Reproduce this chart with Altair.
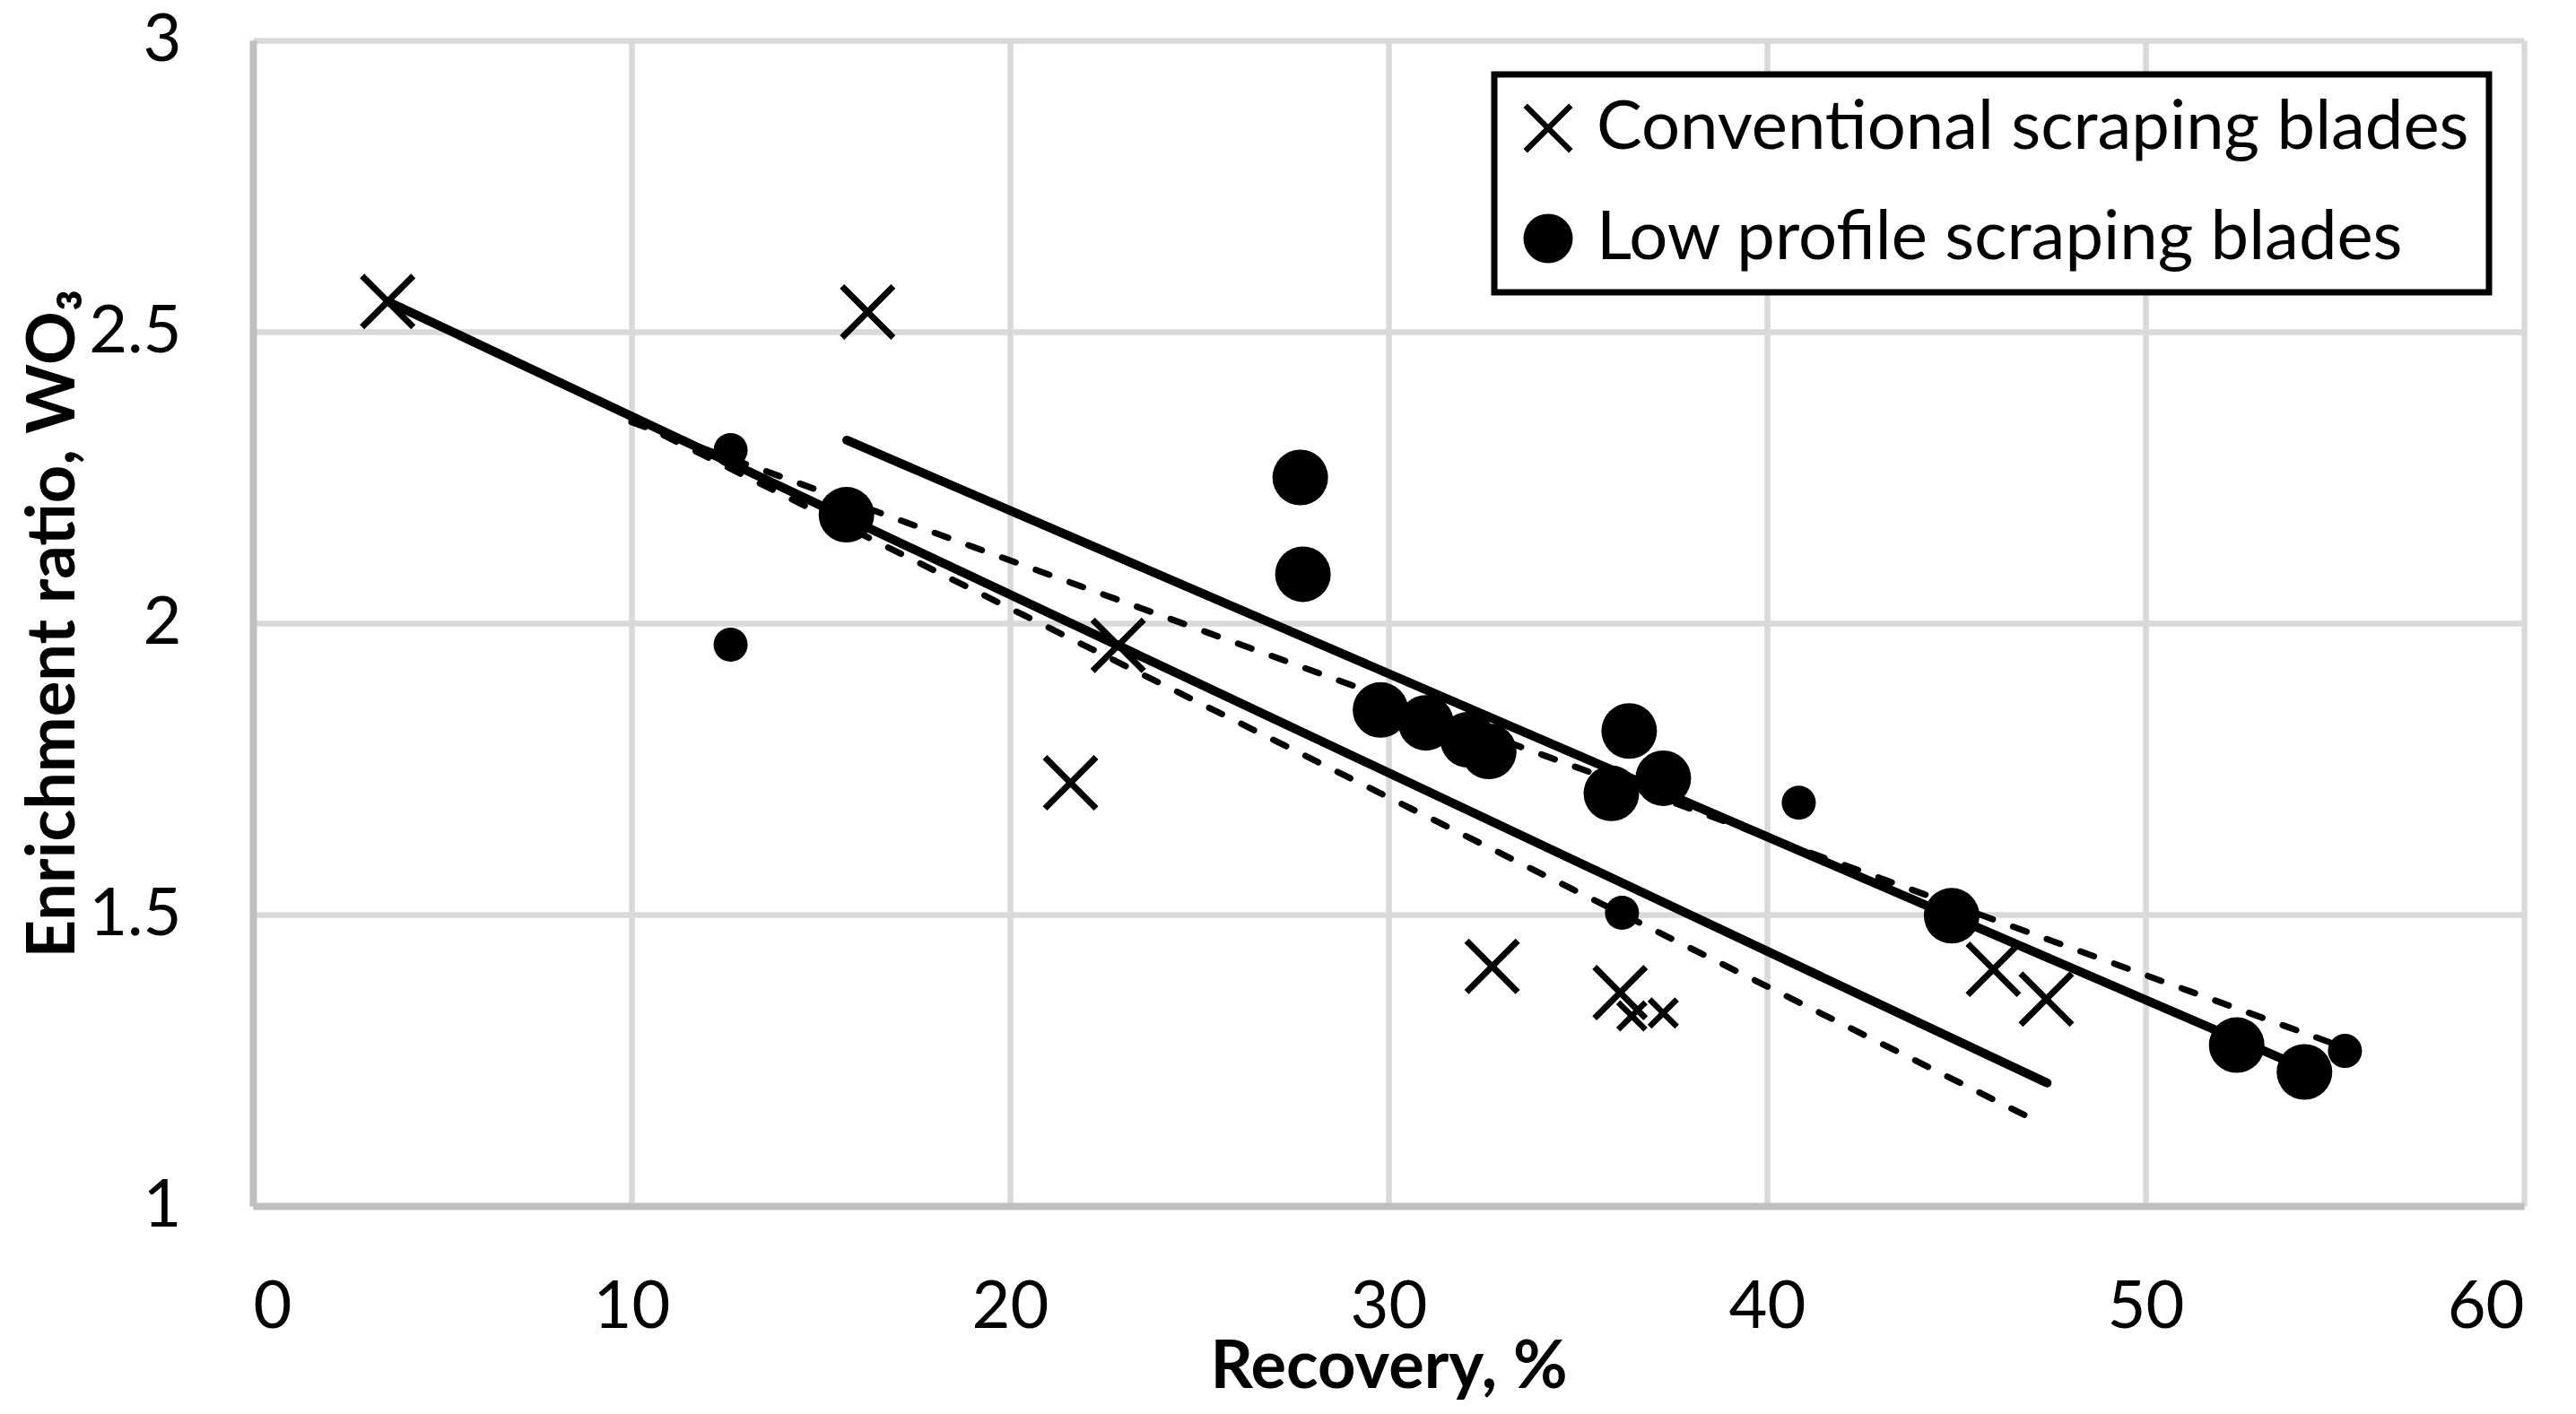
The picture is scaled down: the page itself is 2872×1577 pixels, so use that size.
import altair as alt
import pandas as pd

# ---- data ----
series_names = ["Conventional scraping blades", "Low profile scraping blades"]
small_conv_key = "Conventional scraping blades (small)"

conv_x = [3.56, 16.24, 22.86, 21.6, 32.74, 36.12, 36.43, 37.26, 45.98, 47.38]
conv_y = [2.552, 2.534, 1.962, 1.726, 1.411, 1.366, 1.326, 1.331, 1.406, 1.355]
conv_big = [1, 1, 1, 1, 1, 1, 0, 0, 1, 1]

low_x = [12.62, 12.62, 15.68, 27.67, 27.74, 29.79, 30.99, 32.1, 32.65, 36.36,
         37.26, 35.89, 36.17, 40.84, 44.88, 52.41, 54.2, 55.27]
low_y = [2.297, 1.963, 2.186, 2.250, 2.084, 1.851, 1.829, 1.80, 1.78, 1.815,
         1.734, 1.708, 1.503, 1.692, 1.498, 1.276, 1.23, 1.266]
low_big = [0, 0, 1, 1, 1, 1, 1, 1, 1, 1, 1, 1, 0, 0, 1, 1, 1, 0]

# trend lines (solid) and model lines (dashed): end points
solid_conv_x = [3.56, 47.4]
solid_conv_y = [2.552, 1.211]
solid_low_x = [15.69, 54.6]
solid_low_y = [2.314, 1.225]
dash_conv_x = [10.0, 47.3]
dash_conv_y = [2.35, 1.14]
dash_low_x = [10.0, 54.9]
dash_low_y = [2.345, 1.28]

x_ticks = [0, 10, 20, 30, 40, 50, 60]
y_ticks = [1, 1.5, 2, 2.5, 3]

# ---- marker shapes (filled X polygons) ----
def x_polygon(a):
    b = 1 - a
    return (f"M-1,-{b}L-{b},-1L0,-{a}L{b},-1L1,-{b}L{a},0L1,{b}L{b},1"
            f"L0,{a}L-{b},1L-1,{b}L-{a},0Z")

X_BIG = x_polygon(0.16)
X_SMALL = x_polygon(0.26)

# ---- tables ----
pts = []
for x, y, b in zip(conv_x, conv_y, conv_big):
    pts.append({"x": x, "y": y,
                "key": series_names[0] if b else small_conv_key,
                "sz": 3844 if b else 1225})
for x, y, b in zip(low_x, low_y, low_big):
    pts.append({"x": x, "y": y, "key": series_names[1],
                "sz": 3844 if b else 1444})
pts_df = pd.DataFrame(pts)

solid_df = pd.DataFrame(
    [{"x": x, "y": y, "line": "conv"} for x, y in zip(solid_conv_x, solid_conv_y)]
    + [{"x": x, "y": y, "line": "low"} for x, y in zip(solid_low_x, solid_low_y)]
)
dash_df = pd.DataFrame(
    [{"x": x, "y": y, "line": "conv"} for x, y in zip(dash_conv_x, dash_conv_y)]
    + [{"x": x, "y": y, "line": "low"} for x, y in zip(dash_low_x, dash_low_y)]
)

W, H = 2532, 1300

xscale = alt.Scale(domain=[0, 60], nice=False, zero=False)
yscale = alt.Scale(domain=[1, 3], nice=False, zero=False)

x_axis = alt.Axis(
    values=x_ticks, title="Recovery, %", labelPadding=77, titleY=202,
    titleX=W / 2, titleBaseline="alphabetic", format="d",
)
y_axis = alt.Axis(
    values=y_ticks, title="Enrichment ratio, WO\u2083", labelPadding=80,
    titleX=-200, titleY=H / 2, titleBaseline="alphabetic", format="~g",
)

solid = alt.Chart(solid_df).mark_line(
    color="black", strokeWidth=10, strokeCap="round"
).encode(
    x=alt.X("x:Q", scale=xscale, axis=x_axis),
    y=alt.Y("y:Q", scale=yscale, axis=y_axis),
    detail="line:N",
)

dashed = alt.Chart(dash_df).mark_line(
    color="black", strokeWidth=7, strokeCap="round", strokeDash=[16, 24]
).encode(
    x=alt.X("x:Q", scale=xscale),
    y=alt.Y("y:Q", scale=yscale),
    detail="line:N",
)

points = alt.Chart(pts_df).mark_point(
    filled=True, color="black", strokeWidth=0, opacity=1
).encode(
    x=alt.X("x:Q", scale=xscale),
    y=alt.Y("y:Q", scale=yscale),
    shape=alt.Shape(
        "key:N",
        scale=alt.Scale(domain=[series_names[0], series_names[1], small_conv_key],
                        range=[X_BIG, "circle", X_SMALL]),
        legend=alt.Legend(
            title=None, orient="none", legendX=1384, legendY=38,
            values=series_names,
            direction="vertical", fillColor="white", strokeColor="black",
            padding=22, rowPadding=47, symbolSize=3025, symbolStrokeWidth=0,
            symbolFillColor="black", symbolOpacity=1,
            labelFont="Lato", labelFontSize=76, labelColor="black",
            labelOffset=16, labelLimit=0, cornerRadius=0,
        ),
    ),
    size=alt.Size("sz:Q", scale=None, legend=None),
)

chart = alt.layer(dashed, solid, points).properties(
    width=W, height=H,
    autosize=alt.AutoSizeParams(type="none"),
    padding={"left": 274, "top": 37, "right": 50, "bottom": 220},
    background="white",
).configure_view(
    strokeWidth=0
).configure_axis(
    labelFont="Lato", labelFontSize=74, labelColor="black",
    titleFont="Lato", titleFontSize=74, titleFontWeight="bold", titleColor="black",
    grid=True, gridColor="#d9d9d9", gridWidth=6.5,
    domainColor="#bfbfbf", domainWidth=8,
    ticks=False, tickSize=0,
).configure_legend(
    strokeWidth=7
)

chart.save("out.html", embed_options={"renderer": "svg", "actions": False})
